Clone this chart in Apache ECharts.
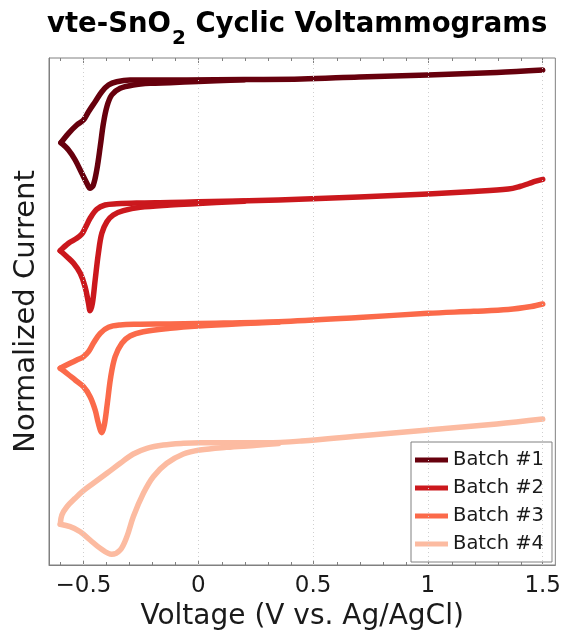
<!DOCTYPE html>
<html>
<head>
<meta charset="utf-8">
<script src="https://cdn.jsdelivr.net/npm/echarts@6/dist/echarts.min.js"></script>
<style>html,body{margin:0;padding:0;background:#fff}#c{width:564px;height:636px}</style>
</head>
<body>
<div id="c"></div>
<script>
// ---- data (voltage in V vs Ag/AgCl, current normalized & offset) ----
const seriesNames = ['Batch #1', 'Batch #2', 'Batch #3', 'Batch #4'];
const seriesColors = ['#67000d', '#cb181d', '#fb6a4a', '#fcbba1'];

const b1SweepV = [1.5, 1.3, 1.0, 0.7, 0.45, 0.2, -0.05, -0.21, -0.297, -0.355, -0.391, -0.42, -0.449, -0.478, -0.5, -0.529, -0.565, -0.598];
const b1SweepI = [4.95, 4.925, 4.90, 4.88, 4.86, 4.855, 4.85, 4.85, 4.85, 4.833, 4.80, 4.733, 4.633, 4.533, 4.45, 4.40, 4.317, 4.223];
const b1ReturnV = [-0.598, -0.565, -0.536, -0.507, -0.485, -0.471, -0.457, -0.442, -0.427, -0.413, -0.398, -0.377, -0.34, -0.283, -0.21, -0.123, 0.0, 0.2];
const b1ReturnI = [4.223, 4.15, 4.05, 3.917, 3.817, 3.767, 3.80, 3.95, 4.183, 4.417, 4.583, 4.70, 4.767, 4.80, 4.817, 4.823, 4.835, 4.853];

const b2SweepV = [1.5, 1.47, 1.44, 1.4, 1.35, 1.2, 1.0, 0.7, 0.35, 0.0, -0.123, -0.268, -0.355, -0.406, -0.442, -0.471, -0.493, -0.507, -0.529, -0.565, -0.601];
const b2SweepI = [3.857, 3.838, 3.815, 3.785, 3.76, 3.735, 3.71, 3.68, 3.65, 3.632, 3.625, 3.62, 3.612, 3.60, 3.557, 3.467, 3.367, 3.31, 3.267, 3.217, 3.143];
const b2ReturnV = [-0.601, -0.572, -0.543, -0.514, -0.493, -0.478, -0.471, -0.461, -0.449, -0.435, -0.42, -0.398, -0.37, -0.326, -0.253, -0.123, 0.0, 0.2];
const b2ReturnI = [3.143, 3.083, 3.017, 2.917, 2.783, 2.617, 2.543, 2.617, 2.85, 3.117, 3.317, 3.433, 3.50, 3.543, 3.577, 3.60, 3.615, 3.638];

const b3SweepV = [1.5, 1.45, 1.35, 1.2, 1.0, 0.7, 0.35, 0.0, -0.123, -0.268, -0.34, -0.391, -0.427, -0.457, -0.478, -0.5, -0.529, -0.565, -0.601];
const b3SweepI = [2.61, 2.585, 2.555, 2.537, 2.517, 2.475, 2.433, 2.415, 2.41, 2.407, 2.40, 2.377, 2.317, 2.217, 2.133, 2.083, 2.05, 2.01, 1.967];
const b3ReturnV = [-0.601, -0.572, -0.536, -0.5, -0.471, -0.449, -0.435, -0.42, -0.409, -0.396, -0.381, -0.362, -0.333, -0.297, -0.239, -0.123, 0.0, 0.2, 0.35];
const b3ReturnI = [1.967, 1.917, 1.85, 1.783, 1.683, 1.55, 1.417, 1.323, 1.40, 1.617, 1.883, 2.083, 2.217, 2.29, 2.333, 2.367, 2.39, 2.415, 2.43];

const b4SweepV = [1.5, 1.3, 1.0, 0.7, 0.45, 0.297, 0.152, 0.007, -0.065, -0.152, -0.224, -0.283, -0.34, -0.398, -0.457, -0.5, -0.536, -0.572, -0.594, -0.601];
const b4SweepI = [1.46, 1.41, 1.35, 1.29, 1.24, 1.223, 1.223, 1.223, 1.217, 1.20, 1.167, 1.11, 1.017, 0.917, 0.817, 0.743, 0.667, 0.583, 0.50, 0.407];
const b4ReturnV = [-0.601, -0.558, -0.514, -0.471, -0.427, -0.377, -0.34, -0.311, -0.283, -0.239, -0.196, -0.137, -0.065, 0.007, 0.123, 0.254, 0.35];
const b4ReturnI = [0.407, 0.383, 0.333, 0.25, 0.167, 0.107, 0.15, 0.283, 0.483, 0.717, 0.883, 1.017, 1.11, 1.15, 1.177, 1.197, 1.215];

const xMajorTicks = [-0.5, 0, 0.5, 1, 1.5];
const xMinorTicks = [-0.6, -0.4, -0.3, -0.2, -0.1, 0.1, 0.2, 0.3, 0.4, 0.6, 0.7, 0.8, 0.9, 1.1, 1.2, 1.3, 1.4];
const xRange = [-0.65, 1.555];
const yRange = [0, 5.07];

// ---- chart ----
const FONT = 'DejaVu Sans';
const AX = '#808080';
const TXT = '#1a1a1a';
const sweeps = [
  [b1SweepV, b1SweepI, b1ReturnV, b1ReturnI],
  [b2SweepV, b2SweepI, b2ReturnV, b2ReturnI],
  [b3SweepV, b3SweepI, b3ReturnV, b3ReturnI],
  [b4SweepV, b4SweepI, b4ReturnV, b4ReturnI]
];
const zip = (a, b) => a.map((v, i) => [v, b[i]]);

const series = [{
  type: 'line', xAxisIndex: 0, yAxisIndex: 0, data: [], silent: true, z: 1,
  markLine: {
    silent: true, symbol: 'none', label: {show: false},
    lineStyle: {color: '#cfcfcf', type: [1, 3], width: 1},
    data: xMajorTicks.map(v => ({xAxis: v}))
  }
}];
sweeps.forEach((s, k) => {
  [[s[0], s[1]], [s[2], s[3]]].forEach(pair => {
    series.push({
      type: 'line', name: seriesNames[k], xAxisIndex: 0, yAxisIndex: 0,
      data: zip(pair[0], pair[1]), smooth: 0.35, showSymbol: false, symbol: 'none',
      color: seriesColors[k], z: 3,
      lineStyle: {width: 5.5, color: seriesColors[k], cap: 'round', join: 'round'}
    });
  });
});

const baseX = {type: 'value', min: xRange[0], max: xRange[1], splitLine: {show: false}};
const option = {
  animation: false,
  backgroundColor: '#fff',
  title: {
    text: '{b|vte-SnO}{s|2}{b| Cyclic Voltammograms}',
    left: 47, top: 11, padding: 0,
    textStyle: {
      rich: {
        b: {fontFamily: FONT, fontSize: 27.5, fontWeight: 'bold', color: '#000', lineHeight: 32, verticalAlign: 'top'},
        s: {fontFamily: FONT, fontSize: 20, fontWeight: 'bold', color: '#000', lineHeight: 20, padding: [18, 0, 0, 1], verticalAlign: 'top'}
      }
    }
  },
  legend: {
    data: seriesNames, orient: 'vertical', left: 411, top: 442,
    backgroundColor: '#fff', borderColor: AX, borderWidth: 1,
    padding: [8, 8, 8, 4], itemGap: 8, itemWidth: 33, itemHeight: 5, icon: 'rect',
    textStyle: {fontFamily: FONT, fontSize: 19.5, lineHeight: 19, color: TXT},
    selectedMode: false
  },
  grid: [
    {left: 49, right: 7, top: 58, bottom: 71, show: true, borderColor: AX, borderWidth: 1, containLabel: false},
    {left: 49, right: 7, top: 58, bottom: 71, show: false, containLabel: false}
  ],
  xAxis: [
    Object.assign({}, baseX, {
      gridIndex: 0, position: 'bottom',
      axisLine: {show: true, onZero: false, lineStyle: {color: AX, width: 1}},
      axisTick: {show: true, inside: true, length: 5, customValues: xMajorTicks, lineStyle: {color: AX}},
      axisLabel: {show: true, customValues: xMajorTicks, margin: 10, fontFamily: FONT, fontSize: 23, color: TXT,
        formatter: v => (v < 0 ? '\u2212' + Math.abs(v) : String(v))},
      name: 'Voltage (V vs. Ag/AgCl)', nameLocation: 'middle', nameGap: 36,
      nameTextStyle: {fontFamily: FONT, fontSize: 28, color: TXT}
    }),
    Object.assign({}, baseX, {
      gridIndex: 0, position: 'top',
      axisLine: {show: false, onZero: false},
      axisTick: {show: true, inside: true, length: 5, customValues: xMajorTicks, lineStyle: {color: AX}},
      axisLabel: {show: false}
    }),
    Object.assign({}, baseX, {
      gridIndex: 1, position: 'bottom',
      axisLine: {show: false, onZero: false},
      axisTick: {show: true, inside: true, length: 3, customValues: xMinorTicks, lineStyle: {color: AX}},
      axisLabel: {show: false}
    }),
    Object.assign({}, baseX, {
      gridIndex: 1, position: 'top',
      axisLine: {show: false, onZero: false},
      axisTick: {show: true, inside: true, length: 3, customValues: xMinorTicks, lineStyle: {color: AX}},
      axisLabel: {show: false}
    })
  ],
  yAxis: [
    {
      type: 'value', gridIndex: 0, min: yRange[0], max: yRange[1], position: 'left',
      axisLine: {show: true, onZero: false, lineStyle: {color: AX}}, axisTick: {show: false}, axisLabel: {show: false},
      splitLine: {show: false},
      name: 'Normalized Current', nameLocation: 'middle', nameGap: 8,
      nameTextStyle: {fontFamily: FONT, fontSize: 29, color: TXT}
    },
    {
      type: 'value', gridIndex: 1, min: yRange[0], max: yRange[1], position: 'left',
      axisLine: {show: false, onZero: false}, axisTick: {show: false}, axisLabel: {show: false}, splitLine: {show: false}
    }
  ],
  series: series
};
const chart = echarts.init(document.getElementById('c'), null, {renderer: 'canvas'});
chart.setOption(option);
</script>
</body>
</html>
